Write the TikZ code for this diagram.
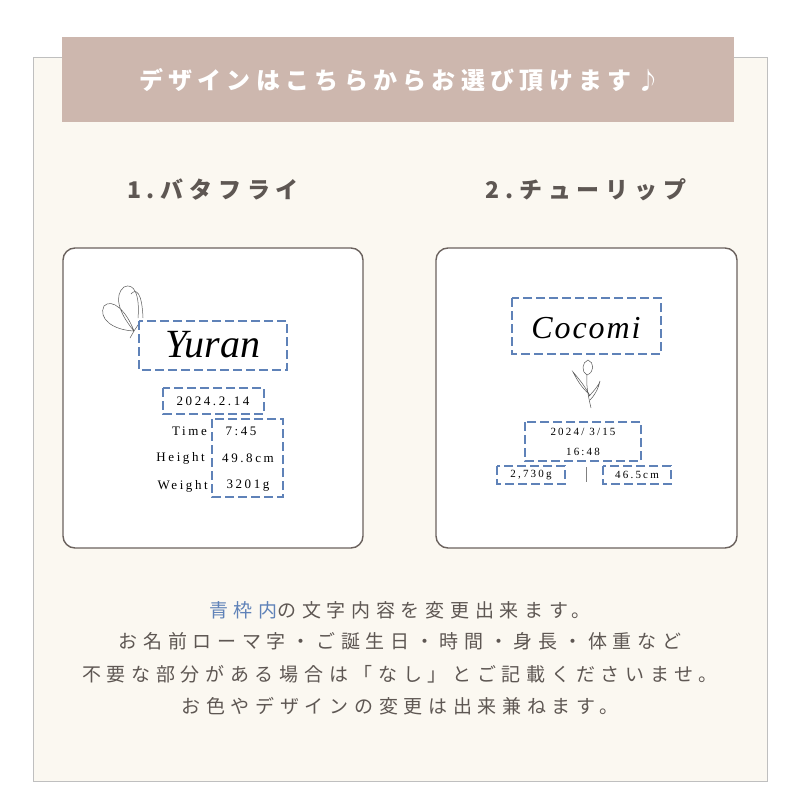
\documentclass[tikz,border=0pt]{standalone}
\usepackage{fontspec}
\setmainfont{Liberation Serif}
\newfontfamily\jpfont{Noto Sans CJK JP}
\definecolor{band}{HTML}{CDB7AE}
\definecolor{cream}{HTML}{FBF8F1}
\definecolor{framegray}{HTML}{6B625E}
\definecolor{txtgray}{HTML}{5E5753}
\definecolor{boxblue}{HTML}{5F82B8}
\tikzset{card/.style={draw=framegray, line width=1.4pt, fill=white, rounded corners=12pt},
         dashbox/.style={draw=boxblue, line width=2.4pt, dash pattern=on 9pt off 4pt},
         info/.style={font=\fontsize{13}{13}\selectfont\addfontfeature{LetterSpace=20}, text=black, inner sep=0pt},
         small/.style={font=\fontsize{11}{11}\selectfont\addfontfeature{LetterSpace=20}, text=black, inner sep=0pt},
         jptext/.style={font=\jpfont\fontsize{19}{19}\selectfont\addfontfeature{LetterSpace=30}, text=txtgray},
         headtext/.style={font=\jpfont\bfseries\fontsize{23}{23}\selectfont\addfontfeature{LetterSpace=25}, text=txtgray}}
\begin{document}
\begin{tikzpicture}[x=1pt, y=-1pt]
\useasboundingbox (0,0) rectangle (800,800);
\fill[white] (0,0) rectangle (800,800);
\draw[gray!50, fill=cream] (33,57) rectangle (767,781);
% header band
\fill[band] (62,37) rectangle (734,122);
\node[font=\jpfont\bfseries\fontsize{24}{24}\selectfont\addfontfeature{LetterSpace=22}, text=white] (title) at (400,80) {デザインはこちらからお選び頂けます♪};
\node[headtext] (head1) at (213,190) {1.バタフライ};
\node[headtext] (head2) at (586,190) {2.チューリップ};
% cards
\draw[card] (63,248) rectangle (363,548);
\draw[card] (436,248) rectangle (737,548);
% butterfly
\draw[gray!70!black, line width=0.5pt]
  (134,331) .. controls (118,312) and (114,295) .. (124,287) .. controls (134,282) and (140,295) .. (138,318)
  (134,331) .. controls (112,330) and (98,318) .. (104,306) .. controls (112,298) and (126,310) .. (134,331)
  (131,294) .. controls (136,288) and (142,292) .. (143,318)
  (134,331) -- (140,322) (134,331) -- (130,338);
\draw[dashbox] (139,321) rectangle (287,370);
\node[font=\itshape\fontsize{40}{40}\selectfont] (name1) at (213,345) {Yuran};
\draw[dashbox] (163,388) rectangle (264,414);
\node[info] (date1) at (213,401) {2024.2.14};
\draw[dashbox] (212,419) rectangle (283,497);
\node[info, anchor=east] (ltime) at (207,431) {Time};
\node[info, anchor=east] (lheight) at (205,458) {Height};
\node[info, anchor=east] (lweight) at (208,486) {Weight};
\node[info] (vtime) at (241,431) {7:45};
\node[info] (vheight) at (248,458) {49.8cm};
\node[info] (vweight) at (248,486) {3201g};
% tulip
\draw[gray!70!black, line width=0.5pt]
  (591,408) .. controls (588,395) and (586,385) .. (587,375)
  (587,375) .. controls (581,372) and (582,362) .. (588,360) .. controls (594,362) and (595,372) .. (587,375)
  (589,394) .. controls (582,388) and (577,380) .. (573,372) .. controls (580,380) and (586,388) .. (590,396)
  (589,396) .. controls (595,390) and (600,383) .. (600,381) .. controls (598,390) and (594,396) .. (590,400);
\draw[dashbox] (512,298) rectangle (661,354);
\node[font=\itshape\fontsize{32}{32}\selectfont\addfontfeature{LetterSpace=6}] (name2) at (586,328) {Cocomi};
\draw[dashbox] (525,422) rectangle (641,461);
\node[small] (date2) at (583,432) {2024/ 3/15};
\node[small] (time2) at (583,452) {16:48};
\draw[dashbox, line width=2pt] (497,466) rectangle (565,484);
\draw[dashbox, line width=2pt] (603,466) rectangle (671,484);
\node[small] (weight2) at (531,475) {2,730g};
\node[small] (height2) at (637,475) {46.5cm};
\coordinate (sepa) at (586,467);
\coordinate (sepb) at (586,482);
\draw[gray] (sepa) -- (sepb);
% notes
\node[jptext] (note1) at (400,610) {\textcolor{boxblue}{青枠内}の文字内容を変更出来ます。};
\node[jptext] (note2) at (400,641) {お名前ローマ字・ご誕生日・時間・身長・体重など};
\node[jptext] (note3) at (400,674) {不要な部分がある場合は「なし」とご記載くださいませ。};
\node[jptext] (note4) at (400,706) {お色やデザインの変更は出来兼ねます。};
\end{tikzpicture}
\end{document}
